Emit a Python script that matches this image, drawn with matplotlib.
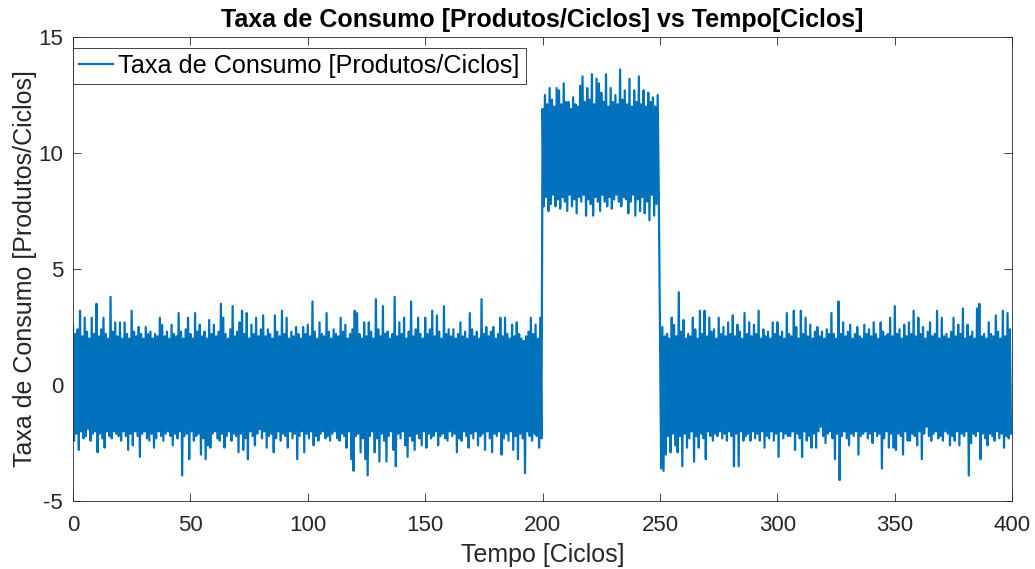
import numpy as np
import matplotlib
matplotlib.use("Agg")
import matplotlib.pyplot as plt

# consumption rate, one peak and one trough per cycle
# cycles 0-199 (normal regime)
top_low1 = [
    2.6, 2.2, 2.4, 3.2, 2.1, 2.9, 2.3, 2.0, 2.9, 2.2,
    3.5, 2.1, 2.4, 2.9, 2.2, 2.0, 3.8, 2.3, 2.7, 2.1,
    2.7, 2.0, 2.7, 2.2, 2.0, 3.2, 2.3, 2.1, 2.5, 2.2,
    2.0, 2.5, 2.2, 2.3, 2.0, 2.2, 2.1, 2.9, 2.6, 2.1,
    2.3, 2.0, 2.6, 2.2, 2.1, 3.1, 2.3, 2.0, 2.4, 2.9,
    2.2, 2.0, 3.1, 2.3, 2.6, 2.1, 2.3, 2.0, 2.8, 2.2,
    2.6, 2.1, 2.3, 3.5, 2.9, 2.2, 2.0, 2.4, 3.4, 2.1,
    2.3, 2.7, 3.2, 2.2, 3.1, 2.0, 2.6, 2.2, 2.9, 2.1,
    2.4, 3.0, 2.1, 2.4, 2.2, 2.0, 3.0, 2.3, 2.1, 3.2,
    2.2, 2.9, 2.0, 2.3, 2.1, 2.5, 2.2, 2.0, 2.5, 2.2,
    2.6, 2.1, 3.6, 2.3, 2.0, 2.7, 2.2, 2.1, 3.1, 2.3,
    2.0, 2.4, 2.2, 2.1, 2.9, 2.3, 2.6, 2.0, 2.2, 2.4,
    3.2, 3.1, 2.2, 2.0, 2.7, 2.1, 2.7, 2.3, 2.0, 3.7,
    2.4, 2.1, 3.4, 2.2, 2.3, 2.0, 2.2, 3.8, 2.1, 2.7,
    2.2, 2.9, 2.0, 2.3, 3.6, 2.1, 2.4, 2.9, 2.2, 2.0,
    2.9, 2.2, 2.4, 3.2, 2.1, 3.0, 2.3, 2.0, 3.4, 2.2,
    2.4, 2.1, 2.4, 2.0, 2.2, 2.7, 2.1, 2.3, 2.0, 3.1,
    2.4, 2.1, 2.3, 2.0, 3.7, 2.2, 2.5, 2.1, 2.3, 2.5,
    2.0, 2.2, 2.9, 2.1, 2.9, 2.2, 2.0, 2.6, 2.1, 2.7,
    2.2, 2.0, 1.9, 2.1, 2.3, 2.9, 2.2, 2.6, 2.0, 2.9,
]
bottom_low1 = [
    -2.4, -2.1, -2.8, -2.0, -2.3, -2.2, -1.9, -2.4, -2.1, -2.0,
    -2.9, -2.1, -2.3, -2.7, -2.0, -2.2, -2.3, -2.0, -2.1, -2.2,
    -2.4, -2.0, -2.2, -2.8, -2.1, -2.6, -2.0, -2.2, -3.1, -2.1,
    -2.0, -2.3, -2.4, -2.1, -2.7, -2.3, -2.0, -2.2, -2.4, -2.1,
    -2.0, -2.2, -2.6, -2.1, -2.3, -2.0, -3.9, -2.2, -2.1, -3.2,
    -2.0, -2.4, -2.2, -2.1, -3.0, -2.3, -3.2, -2.6, -2.7, -2.1,
    -2.0, -2.3, -2.4, -2.1, -2.7, -2.2, -2.0, -2.4, -2.1, -2.2,
    -2.9, -2.1, -2.8, -2.3, -3.2, -2.0, -2.2, -2.6, -2.1, -1.9,
    -2.3, -2.0, -2.7, -2.2, -2.1, -2.9, -2.3, -2.0, -2.4, -2.1,
    -2.2, -2.7, -2.0, -2.3, -2.1, -3.2, -2.2, -2.0, -2.9, -2.1,
    -2.3, -2.0, -2.6, -2.2, -2.4, -2.1, -2.0, -2.3, -2.2, -2.4,
    -2.1, -2.0, -2.3, -2.4, -2.1, -2.2, -2.7, -2.0, -3.2, -3.7,
    -2.2, -2.1, -2.9, -2.3, -3.2, -3.9, -2.2, -2.0, -2.9, -2.3,
    -3.3, -2.1, -2.4, -3.3, -2.2, -2.0, -2.8, -3.5, -2.1, -2.3,
    -2.0, -2.6, -3.1, -2.2, -2.4, -2.8, -2.1, -2.3, -2.6, -2.0,
    -2.7, -2.1, -2.3, -2.2, -2.0, -2.6, -2.2, -2.1, -2.3, -2.4,
    -2.0, -2.2, -2.1, -2.9, -2.3, -2.4, -2.0, -2.2, -2.7, -2.1,
    -2.3, -2.0, -2.6, -2.2, -2.1, -2.8, -2.0, -2.3, -2.9, -2.1,
    -2.2, -2.0, -3.0, -2.3, -2.1, -2.4, -2.0, -2.8, -2.2, -3.2,
    -2.1, -2.3, -3.8, -2.0, -2.2, -2.4, -2.1, -2.2, -2.7, -2.3,
]
# cycles 200-249 (demand peak)
top_high = [
    11.9, 12.5, 12.1, 12.8, 12.3, 12.0, 12.8, 12.7, 12.1, 13.0,
    12.2, 12.2, 11.9, 12.4, 12.1, 12.0, 12.9, 13.3, 12.2, 12.8,
    12.3, 13.4, 12.1, 13.2, 13.0, 12.6, 12.2, 13.4, 12.0, 12.8,
    12.2, 12.5, 12.1, 13.6, 12.3, 12.7, 12.1, 13.2, 12.0, 12.7,
    12.2, 13.3, 12.1, 12.7, 12.0, 12.6, 12.2, 12.4, 12.0, 12.5,
]
bottom_high = [
    7.7, 8.1, 7.5, 7.8, 8.2, 7.7, 8.0, 7.6, 8.1, 7.9,
    7.5, 8.2, 7.7, 8.0, 7.4, 8.1, 7.9, 8.2, 7.3, 8.0,
    7.8, 7.3, 8.1, 7.9, 7.5, 8.2, 7.9, 7.7, 8.1, 7.6,
    8.0, 8.2, 7.9, 7.7, 8.1, 8.0, 7.4, 7.9, 8.2, 7.3,
    8.0, 7.5, 8.1, 7.4, 7.9, 7.1, 8.2, 7.3, 7.8, 8.0,
]
# cycles 250-399 (back to normal)
top_low2 = [
    2.2, 2.5, 2.1, 2.2, 2.0, 2.9, 2.6, 2.1, 4.0, 2.3,
    2.8, 2.0, 2.2, 2.1, 2.9, 2.4, 2.0, 3.2, 2.2, 3.2,
    2.1, 2.9, 2.3, 2.4, 2.0, 2.9, 2.2, 2.5, 2.1, 2.7,
    2.2, 3.0, 2.1, 2.6, 2.3, 2.0, 3.1, 2.2, 2.7, 2.1,
    2.6, 2.2, 3.2, 2.0, 2.4, 2.1, 2.3, 2.0, 2.7, 2.2,
    2.7, 2.1, 2.3, 2.0, 3.1, 2.2, 2.1, 3.2, 2.5, 2.0,
    3.2, 2.2, 2.9, 2.1, 2.6, 2.0, 2.3, 2.5, 2.1, 2.3,
    2.0, 2.4, 2.2, 3.1, 2.2, 2.0, 3.6, 2.2, 2.7, 2.1,
    2.3, 2.6, 2.0, 2.2, 2.5, 2.1, 2.0, 2.6, 2.2, 2.4,
    2.1, 2.7, 2.2, 2.0, 2.7, 2.3, 2.1, 2.2, 2.9, 2.1,
    3.4, 2.2, 2.4, 2.0, 2.6, 2.1, 2.7, 2.2, 3.2, 2.1,
    2.9, 2.2, 2.5, 2.0, 2.3, 2.7, 2.1, 2.2, 3.2, 2.0,
    2.9, 2.1, 2.2, 2.0, 2.3, 2.9, 2.1, 2.6, 2.2, 3.3,
    2.0, 2.6, 2.1, 2.3, 2.0, 3.3, 3.5, 2.1, 2.2, 2.0,
    2.7, 2.2, 2.1, 3.0, 2.3, 2.0, 3.2, 2.1, 3.1, 2.4,
]
bottom_low2 = [
    -3.6, -3.7, -3.0, -2.2, -2.9, -2.1, -2.6, -2.9, -2.2, -3.5,
    -2.1, -2.7, -2.3, -2.0, -3.3, -2.2, -2.7, -2.1, -2.3, -3.2,
    -2.0, -2.2, -2.4, -2.1, -2.2, -2.0, -2.3, -2.1, -2.4, -2.0,
    -2.2, -3.5, -2.1, -3.5, -2.0, -2.4, -2.2, -2.1, -2.4, -2.0,
    -2.3, -2.1, -2.4, -2.0, -2.7, -2.2, -2.3, -2.0, -2.4, -2.1,
    -3.1, -2.0, -2.3, -2.1, -2.2, -2.2, -2.0, -2.8, -2.1, -2.3,
    -3.1, -2.0, -2.4, -2.2, -2.7, -2.1, -2.7, -2.0, -1.8, -2.2,
    -2.5, -2.1, -2.0, -2.3, -3.2, -2.1, -4.1, -2.2, -2.0, -2.3,
    -2.6, -2.1, -2.2, -2.0, -3.0, -2.2, -2.1, -2.0, -2.3, -2.1,
    -2.5, -2.0, -2.2, -2.1, -3.6, -2.3, -2.0, -2.7, -2.1, -2.7,
    -2.8, -2.1, -2.2, -3.0, -2.0, -2.4, -2.4, -2.1, -2.2, -2.6,
    -2.0, -3.2, -2.1, -1.8, -2.2, -2.4, -2.1, -2.0, -2.3, -2.2,
    -2.4, -2.0, -2.1, -2.6, -2.2, -2.4, -2.0, -2.6, -2.1, -2.2,
    -2.0, -3.9, -2.5, -2.1, -2.2, -2.0, -3.2, -2.1, -2.3, -2.6,
    -2.1, -2.2, -2.4, -2.0, -2.3, -2.1, -2.7, -2.2, -2.3, -2.1,
]

x_ticks = [0, 50, 100, 150, 200, 250, 300, 350, 400]
y_ticks = [-5, 0, 5, 10, 15]

LABEL = "Taxa de Consumo [Produtos/Ciclos]"
BLUE = "#0072BD"
DARK = "#262626"

plt.rcParams["font.family"] = ["Liberation Sans", "DejaVu Sans"]
plt.rcParams["axes.unicode_minus"] = False

top = np.concatenate([top_low1, top_high, top_low2])
bottom = np.concatenate([bottom_low1, bottom_high, bottom_low2])
n = len(top)
t = np.empty(2 * n)
y = np.empty(2 * n)
t[0::2] = np.arange(n)
t[1::2] = np.arange(n) + 0.5
y[0::2] = top
y[1::2] = bottom

fig = plt.figure(figsize=(10.35, 5.69), dpi=100)
ax = fig.add_axes([0.0705, 0.1195, 0.9075, 0.8155])
ax.plot(t, y, color=BLUE, linewidth=1.6, label=LABEL)

ax.set_xlim(0, 400)
ax.set_ylim(-5, 15)
ax.set_xticks(x_ticks)
ax.set_yticks(y_ticks)
ax.tick_params(direction="in", top=True, right=True, length=6, width=0.6,
               colors=DARK, labelsize=16)
ax.tick_params(axis="x", pad=10)
ax.tick_params(axis="y", pad=7)
for s in ax.spines.values():
    s.set_color(DARK)
    s.set_linewidth(0.6)

ax.set_xlabel("Tempo [Ciclos]", fontsize=18, color=DARK, labelpad=5)
ax.set_ylabel(LABEL, fontsize=18, color=DARK, labelpad=1)
ax.set_title("Taxa de Consumo [Produtos/Ciclos] vs Tempo[Ciclos]",
             fontsize=18, fontweight="bold", color="black", pad=7)

leg = ax.legend(loc="upper left", bbox_to_anchor=(0.0, 0.977), fontsize=18.2,
                handlelength=1.35, handletextpad=0.2, borderaxespad=0.0,
                borderpad=0.25, fancybox=False, framealpha=1, edgecolor=DARK)
leg.get_frame().set_linewidth(0.6)

fig.savefig("out.png", dpi=100)
